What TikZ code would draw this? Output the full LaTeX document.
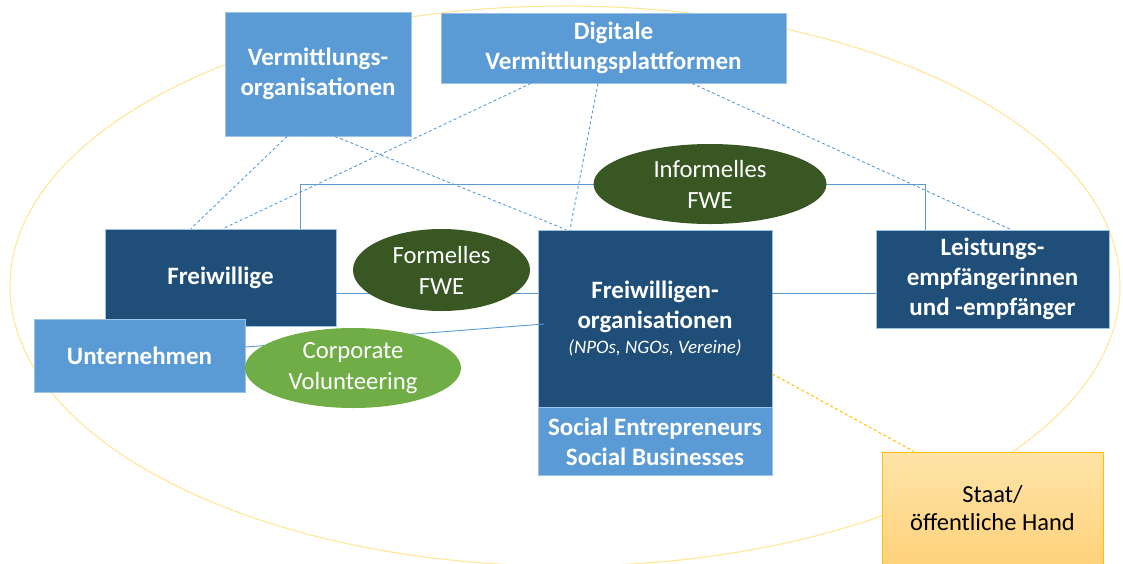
\documentclass[tikz,border=0pt]{standalone}
\usepackage{fontspec}
\setmainfont{Carlito}
\usetikzlibrary{shapes.geometric}
\definecolor{lblue}{HTML}{5B9BD5}
\definecolor{dblue}{HTML}{1F4E79}
\definecolor{dgreen}{HTML}{385723}
\definecolor{lgreen}{HTML}{70AD47}
\definecolor{goldc}{HTML}{FFC000}
\definecolor{ringcol}{HTML}{FFE699}
\definecolor{staattop}{HTML}{FEE4A8}
\definecolor{staatbot}{HTML}{FFD27C}
\definecolor{edgecol}{HTML}{9DC3E6}
\begin{document}
\begin{tikzpicture}[x=1pt,y=-1pt,
  boxbase/.style={rectangle, draw=edgecol, line width=0.8pt, inner sep=0pt, align=center, text=white, font=\fontsize{25}{30}\selectfont\bfseries},
  lbox/.style={boxbase, fill=lblue},
  dbox/.style={boxbase, fill=dblue},
  oval/.style={ellipse, inner sep=0pt, align=center, text=white, font=\fontsize{24.7}{31}\selectfont},
  staatbox/.style={rectangle, draw=goldc, line width=1pt, top color=staattop, bottom color=staatbot, inner sep=0pt, align=center, text=black, font=\fontsize{24.5}{28}\selectfont},
  link/.style={draw=lblue, line width=0.9pt},
  dlink/.style={link, dash pattern=on 3pt off 2.5pt},
  glink/.style={draw=goldc, line width=1pt, dash pattern=on 3pt off 2.5pt},
]
\useasboundingbox (0,0) rectangle (1123,563);
\draw[ringcol, line width=1.1pt] (565,286) ellipse [x radius=555, y radius=280];

% nodes
\node[lbox, minimum width=186, minimum height=124] (vo) at (318,74) {Vermittlungs-\\organisationen};
\node[lbox, minimum width=345, minimum height=70] (dp) at (613.5,48) {Digitale\\Vermittlungsplattformen};
\node[dbox, minimum width=234, minimum height=177] (fo) at (655,318.5) {Freiwilligen-\\organisationen\\[-5pt]{\fontsize{19}{22}\selectfont\mdseries\itshape (NPOs, NGOs, Vereine)}};
\node[lbox, minimum width=234, minimum height=68, anchor=north] (se) at (fo.south) {Social Entrepreneurs\\Social Businesses};
\node[dbox, minimum width=233, minimum height=98] (le) at (992.5,279) {Leistungs-\\empf\"angerinnen\\und -empf\"anger};
\node[staatbox, minimum width=221, minimum height=112] (st) at (992.5,508) {Staat/\\\"offentliche Hand};

\coordinate (c1) at (300,184);
\coordinate (c2) at (925,184);
\coordinate (cvend) at (544,324);

\node[dbox, minimum width=231, minimum height=97] (fw) at (220.5,277.5) {Freiwillige};
\node[lbox, minimum width=211, minimum height=73] (un) at (139.5,355.5) {Unternehmen};

% connectors
\draw[link] (fw.east |- 0,293) -- (fo.west |- 0,293);
\draw[link] (fo.east |- 0,293) -- (le.west |- 0,293);
\draw[link] (fw.north -| c1) -- (c1) -- (c2) -- (le.north -| c2);
\draw[link] ([yshift=8.5pt]un.east) -- (cvend);
\draw[dlink] ([xshift=-31pt]vo.south) -- ([xshift=-29.5pt]fw.north);
\draw[dlink] ([xshift=17pt]vo.south) -- ([xshift=-89pt]fo.north);
\draw[dlink] ([xshift=-82.5pt]dp.south) -- ([xshift=2.5pt]fw.north);
\draw[dlink] ([xshift=-15.5pt]dp.south) -- ([xshift=-85pt]fo.north);
\draw[dlink] ([xshift=78.5pt]dp.south) -- ([xshift=18.5pt]le.north);
\draw[glink] ([yshift=-55.5pt]fo.east) -- ([xshift=-78.5pt]st.north);

\node[oval, fill=dgreen, minimum width=233, minimum height=80] (inf) at (710,184) {Informelles\\FWE};
\node[oval, fill=dgreen, minimum width=177, minimum height=82] (form) at (441.5,270) {Formelles\\FWE};
\node[oval, fill=lgreen, minimum width=216, minimum height=80] (cv) at (353,368) {Corporate\\Volunteering};
\end{tikzpicture}
\end{document}
